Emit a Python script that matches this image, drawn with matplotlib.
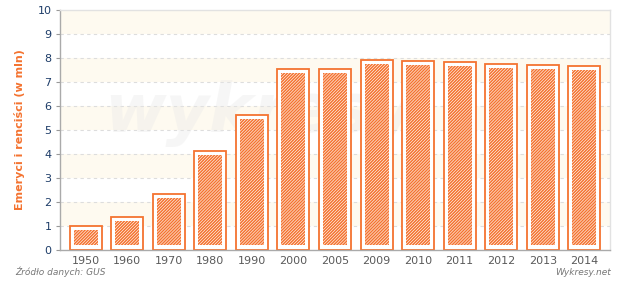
import matplotlib
matplotlib.use("Agg")
import matplotlib.pyplot as plt
import numpy as np

years = ["1950", "1960", "1970", "1980", "1990", "2000", "2005", "2009",
         "2010", "2011", "2012", "2013", "2014"]
values = [0.99, 1.36, 2.32, 4.11, 5.63, 7.55, 7.55, 7.93, 7.88, 7.84, 7.76, 7.72, 7.68]
y_ticks = list(range(0, 11))
y_label = "Emeryci i renciści (w mln)"
source = "Źródło danych: GUS"
brand = "Wykresy.net"

ORANGE = "#f47330"
CREAM = "#fefaf0"
NAVY = "#1d3c68"
GRAY = "#5a5a5a"

plt.rcParams['font.family'] = ['DejaVu Sans']
plt.rcParams['hatch.linewidth'] = 1.1

fig = plt.figure(figsize=(6.2, 2.82), dpi=100)
ax = fig.add_axes([60/620, 32/282, 550/620, 240/282])

x = np.arange(len(years))
ax.set_xlim(-0.62, len(years) - 1 + 0.62)
ax.set_ylim(0, 10)

# alternating bands
for lo in y_ticks[1::2]:
    if lo + 1 <= 10:
        ax.axhspan(lo, lo + 1, color=CREAM, zorder=0, lw=0)

# grid
for t in y_ticks[1:-1]:
    ax.axhline(t, color="#dddddd", lw=0.8, ls=(0, (3, 3)), zorder=1)

# watermark
ax.text(0.08, 0.57, "wykresy", transform=ax.transAxes, fontsize=48,
        fontweight="bold", style="italic", color="#e8e8e8", alpha=0.35,
        ha="left", va="center", zorder=1)

width = 0.77
ax.bar(x, values, width=width, facecolor="white", edgecolor=ORANGE, lw=1.3, zorder=2)
inset_x = 0.097
inset_top = 0.16
inset_bot = 0.21
inner_h = [v - inset_top - inset_bot for v in values]
ax.bar(x, inner_h, bottom=inset_bot, width=width - 2 * inset_x,
       facecolor="white", edgecolor=ORANGE, lw=0, hatch="///////////", zorder=3)

ax.set_xticks(x)
ax.set_xticklabels(years, color=GRAY, fontsize=8)
ax.set_yticks(y_ticks)
ax.set_yticklabels([str(t) for t in y_ticks], color=NAVY, fontsize=8)
ax.tick_params(axis="x", length=0, pad=4)
ax.tick_params(axis="y", length=3, color="#999999", pad=3)

for s in ["top", "right"]:
    ax.spines[s].set_color("#e2e2e2")
    ax.spines[s].set_linewidth(1)
for s in ["left", "bottom"]:
    ax.spines[s].set_color("#aaaaaa")
    ax.spines[s].set_linewidth(1)

ax.set_ylabel(y_label, color=ORANGE, fontsize=8, fontweight="bold", labelpad=9)

fig.text(15/620, 1 - 277/282, source, fontsize=6.5, style="italic", color="#777777",
         ha="left", va="bottom")
fig.text(611/620, 1 - 277/282, brand, fontsize=6.5, style="italic", color="#777777",
         ha="right", va="bottom")

fig.savefig("out.png", dpi=100)
